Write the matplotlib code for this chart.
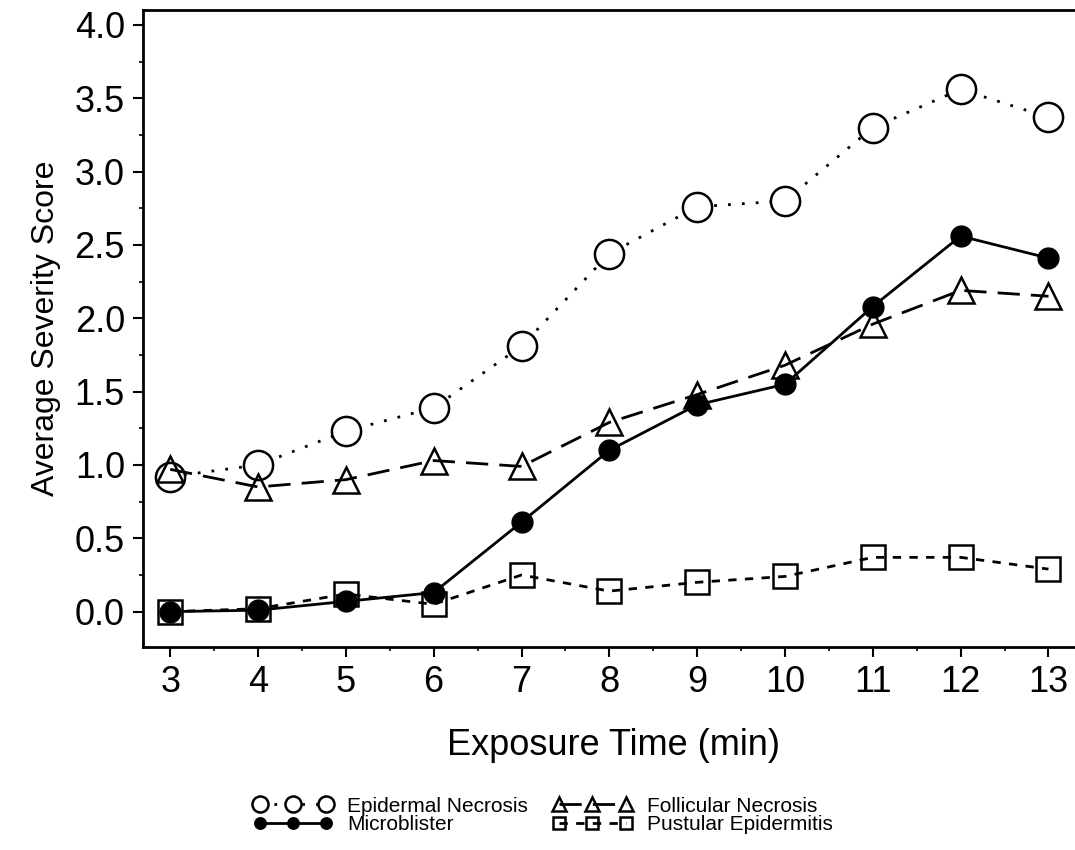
import matplotlib
matplotlib.use("Agg")
import matplotlib.pyplot as plt
from matplotlib.ticker import MultipleLocator

plt.rcParams['font.family'] = ['Liberation Sans', 'DejaVu Sans']

# exposure time (min)
minutes = [3, 4, 5, 6, 7, 8, 9, 10, 11, 12, 13]

epidermal = [0.92, 1.00, 1.23, 1.39, 1.81, 2.44, 2.76, 2.80, 3.30, 3.56, 3.37]
microblister = [0.00, 0.01, 0.07, 0.13, 0.61, 1.10, 1.41, 1.55, 2.08, 2.56, 2.41]
follicular = [0.97, 0.85, 0.90, 1.03, 0.99, 1.29, 1.48, 1.68, 1.96, 2.19, 2.15]
pustular = [0.00, 0.02, 0.12, 0.05, 0.25, 0.14, 0.20, 0.24, 0.37, 0.37, 0.29]

fig = plt.figure(figsize=(10.75, 8.5), dpi=100)
ax = fig.add_axes([0.133, 0.239, 0.875, 0.749])

ax.plot(minutes, epidermal, color='black', lw=2, linestyle=(0, (1, 4)),
        marker='o', markersize=21, markerfacecolor='white',
        markeredgecolor='black', markeredgewidth=1.8,
        label='Epidermal Necrosis', zorder=3)
ax.plot(minutes, follicular, color='black', lw=2, linestyle=(0, (8, 4)),
        marker='^', markersize=19, markerfacecolor='none',
        markeredgecolor='black', markeredgewidth=1.8,
        label='Follicular Necrosis', zorder=4)
ax.plot(minutes, pustular, color='black', lw=2, linestyle=(0, (3, 3)),
        marker='s', markersize=17, markerfacecolor='none',
        markeredgecolor='black', markeredgewidth=1.8,
        label='Pustular Epidermitis', zorder=4)
ax.plot(minutes, microblister, color='black', lw=2, linestyle='-',
        marker='o', markersize=15, markerfacecolor='black',
        markeredgecolor='black',
        label='Microblister', zorder=5)

ax.set_xlim(2.69, 13.4)
ax.set_ylim(-0.24, 4.10)

ax.xaxis.set_major_locator(MultipleLocator(1))
ax.xaxis.set_minor_locator(MultipleLocator(0.5))
ax.yaxis.set_major_locator(MultipleLocator(0.5))
ax.yaxis.set_minor_locator(MultipleLocator(0.25))
ax.set_yticklabels([f'{v:.1f}' for v in ax.get_yticks()])

ax.tick_params(axis='both', which='major', direction='out', length=7,
               width=1.5, labelsize=26, pad=6)
ax.tick_params(axis='both', which='minor', direction='out', length=3,
               width=1.2)
for s in ax.spines.values():
    s.set_linewidth(2)

ax.set_xlabel('Exposure Time (min)', fontsize=26, labelpad=20)
ax.set_ylabel('Average Severity Score', fontsize=23, labelpad=10)

h, l = ax.get_legend_handles_labels()
order = [0, 3, 1, 2]
fig.legend([h[i] for i in order], [l[i] for i in order],
           loc='upper center', bbox_to_anchor=(0.505, 0.085), ncol=2,
           numpoints=3, markerscale=0.55, handlelength=3.8, frameon=False,
           fontsize=15, columnspacing=1.2, labelspacing=0.0,
           handletextpad=0.7)

fig.savefig('out.png', dpi=100)
